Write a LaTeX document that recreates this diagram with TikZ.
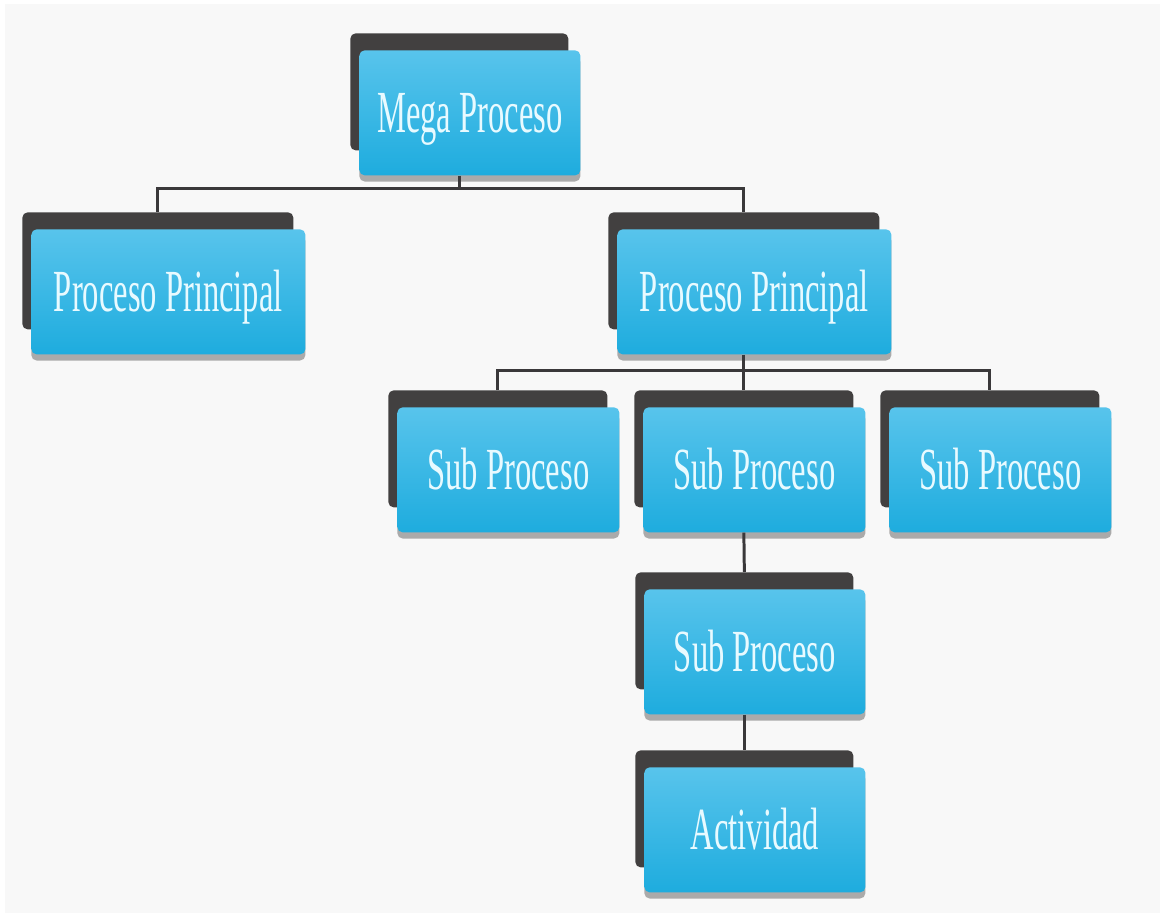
\documentclass[tikz,border=0pt]{standalone}
\usepackage{fontspec}
\setmainfont{Liberation Serif}
\usetikzlibrary{shadows}
\definecolor{backdark}{RGB}{66,64,64}
\definecolor{bluetop}{RGB}{88,196,236}
\definecolor{bluebot}{RGB}{30,172,222}
\definecolor{labeltext}{RGB}{232,250,255}
\definecolor{linkcol}{RGB}{58,56,58}
\definecolor{panel}{RGB}{248,248,248}
\tikzset{
  backbox/.style={fill=backdark, rounded corners=3pt, anchor=north west,
    minimum height=117*0.02cm, inner sep=0pt},
  frontbox/.style={top color=bluetop, bottom color=bluebot, rounded corners=3pt,
    anchor=north west, minimum height=125*0.02cm, inner sep=0pt,
    text=labeltext, text height=22.5pt, text depth=0pt,
    drop shadow={shadow xshift=0pt, shadow yshift=-3.5pt, opacity=0.45, fill=black!70}},
  link/.style={draw=linkcol, line width=1.7pt}
}
% \procbox{name}{x}{y}{width}{label}: dark back card with the blue card on top
\newcommand\procbox[5]{%
  \node[backbox, minimum width=#4*0.02cm] (#1-b) at (#2,#3) {};
  \node[frontbox, minimum width=(#4+3)*0.02cm] (#1) at (#2+9,#3+17)
    {\scalebox{0.545}[1]{\fontsize{34}{40}\selectfont #5}};%
}
\begin{document}
\begin{tikzpicture}[x=0.02cm, y=-0.02cm]
  \fill[white] (0,0) rectangle (1162,913);
  \fill[panel] (5,4) rectangle (1160,913);
  \useasboundingbox (0,0) rectangle (1162,913);

  \procbox{mega}{350}{33}{218}{Mega Proceso}
  \procbox{ppl}{22}{212}{271}{Proceso Principal}
  \procbox{ppr}{608}{212}{271}{Proceso Principal}
  \procbox{spa}{388}{390}{219}{Sub Proceso}
  \procbox{spb}{634}{390}{219}{Sub Proceso}
  \procbox{spc}{880}{390}{219}{Sub Proceso}
  \procbox{spd}{635}{572}{218}{Sub Proceso}
  \procbox{act}{635}{750}{218}{Actividad}

  % connectors
  \draw[link] (mega-b.south |- mega.south) -- ++(0,13) coordinate (bus1);
  \draw[link] (ppl-b.north) |- (bus1) -| (ppr-b.north);
  \draw[link] (ppr-b.south |- ppr.south) -- ++(0,16) coordinate (bus2);
  \draw[link] (spa-b.north) |- (bus2) -| (spc-b.north);
  \draw[link] (bus2) -- (spb-b.north);
  \draw[link] (spb-b.south |- spb.south) -- (spd-b.north);
  \draw[link] (spd-b.south |- spd.south) -- (act-b.north);
\end{tikzpicture}
\end{document}
